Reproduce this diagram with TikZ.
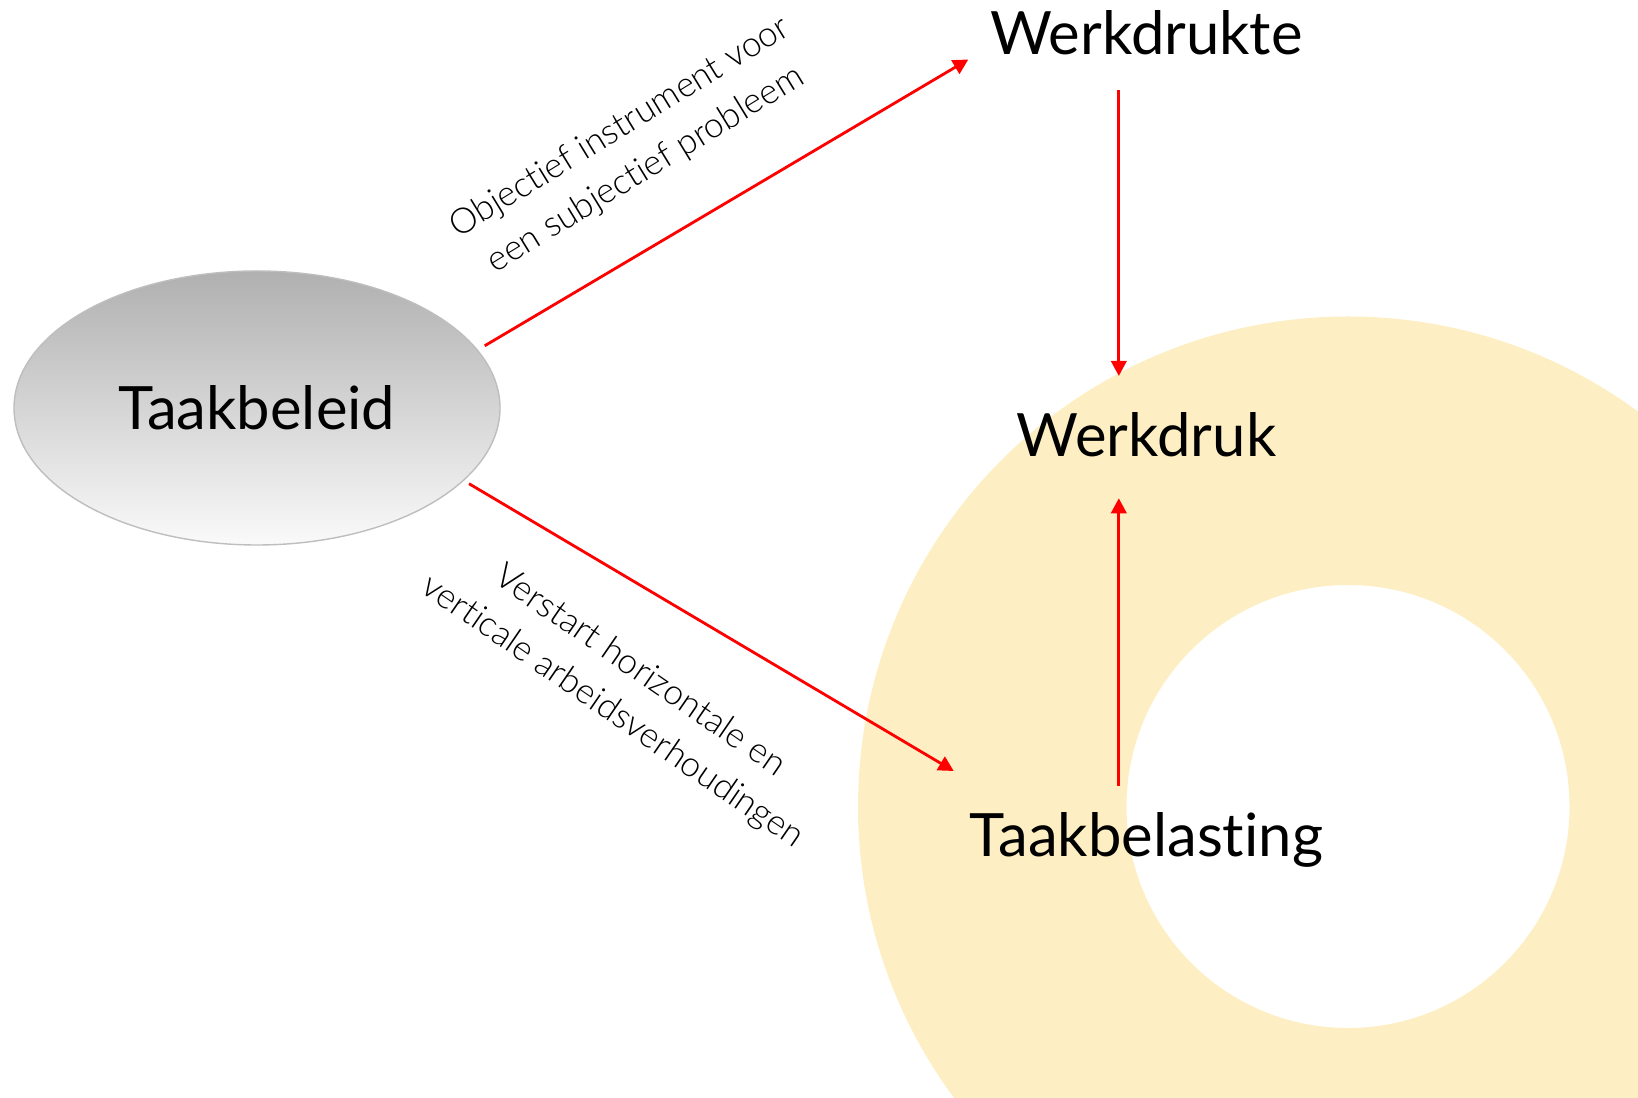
\documentclass[tikz,border=0pt]{standalone}
\usepackage{fontspec}
\setmainfont{Lato}[Ligatures=NoCommon]
\newfontfamily\licht{Lato Light}[Ligatures=NoCommon]
\usetikzlibrary{arrows.meta,shapes.geometric}
\definecolor{ringgeel}{RGB}{253,239,195}
\definecolor{randgrijs}{RGB}{190,190,190}
\definecolor{donkergrijs}{RGB}{176,176,176}
\tikzset{
	pijl/.style={red,line width=0.8pt,-{Triangle[length=4.3pt,width=4.4pt]}},
	begrip/.style={font=\fontsize{17}{20}\selectfont,anchor=base,inner sep=0pt},
	uitleg/.style={font=\licht\fontsize{10}{14}\selectfont,align=center}
}
\begin{document}
\begin{tikzpicture}
	\useasboundingbox (0,0) rectangle (16.38,10.97);
	\begin{scope}
		\clip (0,0) rectangle (16.38,10.97);
		\fill[ringgeel,even odd rule] (13.48,2.905) circle (4.90) (13.48,2.905) circle (2.215);
	\end{scope}
	
	\node[ellipse,draw=randgrijs,top color=donkergrijs,bottom color=white!98!black,minimum width=4.86cm,minimum height=2.74cm,inner sep=0pt,font=\fontsize{17}{20}\selectfont] (taakbeleid) at (2.57,6.89) {Taakbeleid};
	\node[begrip] (werkdrukte) at (11.465,10.427) {Werkdrukte};
	\node[begrip] (werkdruk) at (11.465,6.405) {Werkdruk};
	\node[begrip] (taakbelasting) at (11.465,2.404) {Taakbelasting};
	
	\coordinate (boven-start) at (4.847,7.512);
	\coordinate (boven-eind) at (9.683,10.375);
	\coordinate (onder-start) at (4.69,6.133);
	\coordinate (onder-eind) at (9.537,3.26);
	\coordinate (drukte-voet) at (11.188,10.072);
	\coordinate (druk-top) at (11.188,7.21);
	\coordinate (belasting-top) at (11.188,3.115);
	\coordinate (druk-voet) at (11.188,5.987);
	
	\draw[pijl] (boven-start) -- (boven-eind);
	\draw[pijl] (onder-start) -- (onder-eind);
	\draw[pijl] (drukte-voet) -- (druk-top);
	\draw[pijl] (belasting-top) -- (druk-voet);
	
	\node[uitleg,rotate=31.5] (label-boven) at (6.33,9.48) {Objectief instrument voor\\een subjectief probleem};
	\node[uitleg,rotate=-34.5] (label-onder) at (6.26,4.05) {Verstart horizontale en\\verticale arbeidsverhoudingen};
\end{tikzpicture}
\end{document}
